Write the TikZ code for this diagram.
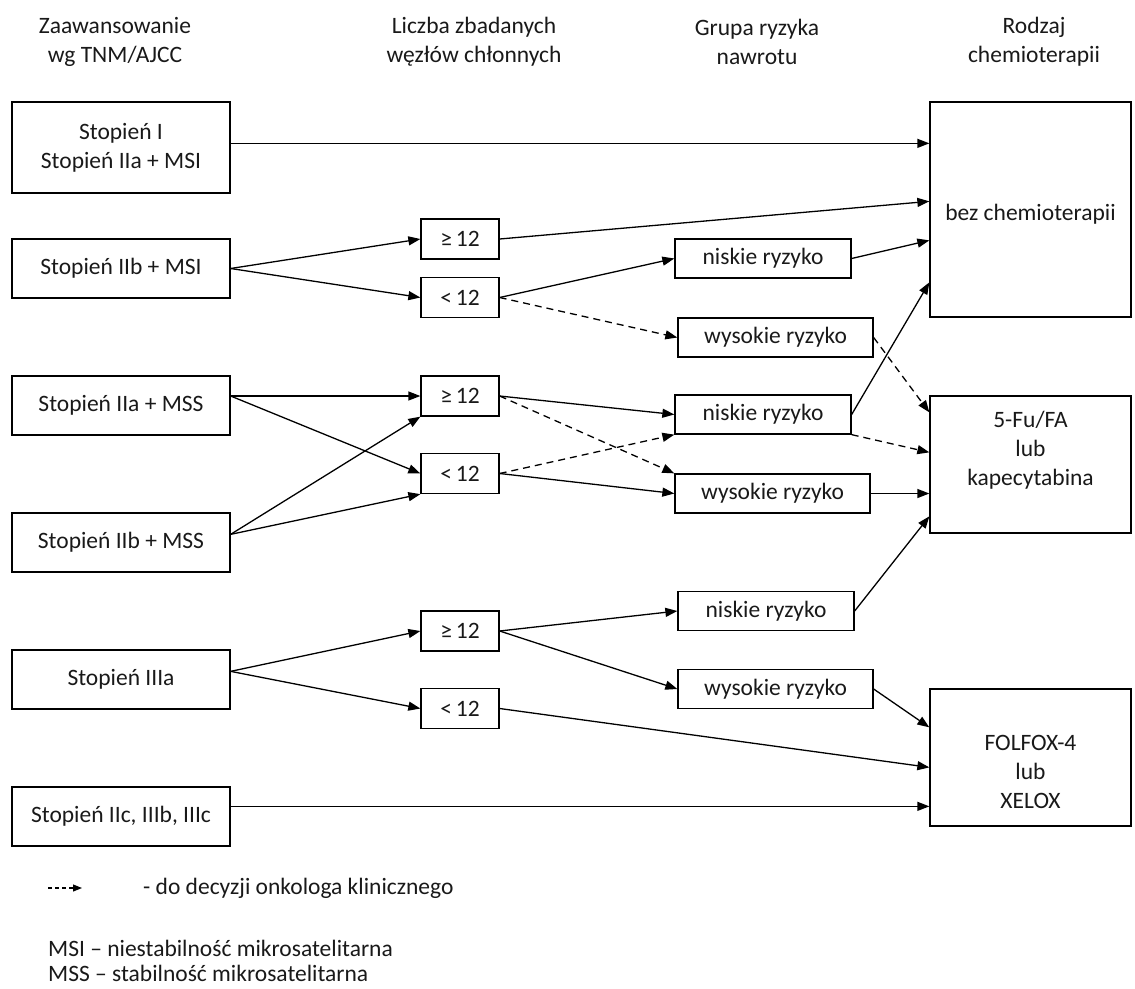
\documentclass[tikz,border=0pt]{standalone}
\usepackage{fontspec}
\setmainfont{Carlito}
\usetikzlibrary{arrows.meta,calc}
\begin{document}
\begin{tikzpicture}[x=1pt,y=-1pt,
  every node/.style={font=\fontsize{23.5}{29}\selectfont, text=black!90},
  box/.style={draw, line width=1.3pt, inner sep=0pt, align=center},
  lbox/.style={box, minimum width=218pt, minimum height=59pt},
  cbox/.style={box, minimum width=78pt, minimum height=40pt},
  nbox/.style={box, minimum width=176pt, minimum height=39pt},
  wbox/.style={box, minimum width=195pt, minimum height=39pt},
  rbox/.style={box, minimum width=201pt},
  arr/.style={line width=1.3pt, -{Triangle[length=12pt,width=9pt]}},
  darr/.style={arr, dash pattern=on 7pt off 5pt},
  hdr/.style={align=center, inner sep=0pt}
]
\useasboundingbox (0,0) rectangle (1135,988);

% headers
\node[hdr] (h1) at (115,42) {Zaawansowanie\\wg TNM/AJCC};
\node[hdr] (h2) at (474,42) {Liczba zbadanych\\węzłów chłonnych};
\node[hdr] (h3) at (757,42) {Grupa ryzyka\\nawrotu};
\node[hdr] (h4) at (1034,42) {Rodzaj\\chemioterapii};

% left column
\node[lbox, minimum height=91pt] (s1) at (121,147.5) {Stopień I\\Stopień IIa + MSI};
\node[lbox] (s2) at (121,268.5) {Stopień IIb + MSI};
\node[lbox] (s3) at (121,405.5) {Stopień IIa + MSS};
\node[lbox] (s4) at (121,542.5) {Stopień IIb + MSS};
\node[lbox] (s5) at (121,679.5) {Stopień IIIa};
\node[lbox] (s6) at (121,816.5) {Stopień IIc, IIIb, IIIc};

% count column
\node[cbox] (c1a) at (460,239) {≥\,12};
\node[cbox] (c1b) at (460,297.5) {<\,12};
\node[cbox] (c2a) at (460,396) {≥\,12};
\node[cbox] (c2b) at (460,473.5) {<\,12};
\node[cbox] (c3a) at (460,631) {≥\,12};
\node[cbox] (c3b) at (460,708.5) {<\,12};

% risk column
\node[nbox] (r1) at (763,258.5) {niskie ryzyko};
\node[wbox] (r2) at (775.5,337.5) {wysokie ryzyko};
\node[nbox] (r3) at (763,414.5) {niskie ryzyko};
\node[wbox] (r4) at (772.5,493.5) {wysokie ryzyko};
\node[nbox] (r5) at (766,611) {niskie ryzyko};
\node[wbox] (r6) at (775.5,689) {wysokie ryzyko};

% right column
\node[rbox, minimum height=215pt,
  label={[align=center, yshift=-5pt]center:bez chemioterapii}] (bez) at (1030.5,209.5) {};
\node[rbox, minimum height=137pt,
  label={[align=center, yshift=14pt]center:5-Fu/FA\\lub\\kapecytabina}] (fu) at (1030.5,464.5) {};
\node[rbox, minimum height=137pt,
  label={[align=center, yshift=-14pt]center:FOLFOX-4\\lub\\XELOX}] (fol) at (1030.5,757.5) {};

% origin points
\coordinate (s1o) at ($(s1.north east)+(0,42)$);
\coordinate (s3o) at (s3.east |- c2a.west);
\coordinate (s4o) at ($(s4.north east)+(0,22)$);
\coordinate (s5o) at ($(s5.north east)+(0,22)$);
\coordinate (s6o) at ($(s6.north east)+(0,20)$);

% connectors
\draw[arr] (s1o) -- (s1o -| bez.west);
\draw[arr] (s2.east) -- (c1a.west);
\draw[arr] (s2.east) -- (c1b.west);
\draw[arr] (c1a.east) -- ($(bez.north west)+(0,100)$);
\draw[arr] (c1b.east) -- (r1.west);
\draw[darr] (c1b.east) -- (r2.west);
\draw[arr] (r1.east) -- ($(bez.north west)+(0,139)$);
\draw[arr] (r3.east) -- ($(bez.north west)+(0,181)$);
\draw[darr] (r2.east) -- ($(fu.north west)+(0,17)$);
\draw[darr] (r3.south east) -- ($(fu.north west)+(0,57)$);

\draw[arr] (s3o) -- (c2a.west);
\draw[arr] (s3o) -- (c2b.west);
\draw[arr] (s4o) -- (c2a.south west);
\draw[arr] (s4o) -- (c2b.south west);
\draw[arr] (c2a.east) -- (r3.west);
\draw[darr] (c2a.east) -- (r4.north west);
\draw[darr] (c2b.east) -- (r3.south west);
\draw[arr] (c2b.east) -- (r4.west);
\draw[arr] (r4.east) -- (r4.east -| fu.west);
\draw[arr] (r5.east) -- ($(fu.north west)+(0,121)$);

\draw[arr] (s5o) -- (c3a.west);
\draw[arr] (s5o) -- (c3b.west);
\draw[arr] (c3a.east) -- (r5.west);
\draw[arr] (c3a.east) -- (r6.west);
\draw[arr] (r6.east) -- ($(fol.north west)+(0,39)$);
\draw[arr] (c3b.east) -- ($(fol.north west)+(0,79)$);
\draw[arr] (s6o) -- (s6o -| fol.west);

% legend
\coordinate (lg1) at (48,888);
\coordinate (lg2) at (82,888);
\draw[line width=1.1pt, dash pattern=on 4pt off 3pt, -{Triangle[length=9pt,width=7pt]}] (lg1) -- (lg2);
\node[anchor=west, inner sep=0pt] (lgt) at (143,888) {- do decyzji onkologa klinicznego};
\node[anchor=west, inner sep=0pt] (msi) at (48,948) {MSI – niestabilność mikrosatelitarna};
\node[anchor=west, inner sep=0pt] (mss) at (48,973) {MSS – stabilność mikrosatelitarna};
\end{tikzpicture}
\end{document}
